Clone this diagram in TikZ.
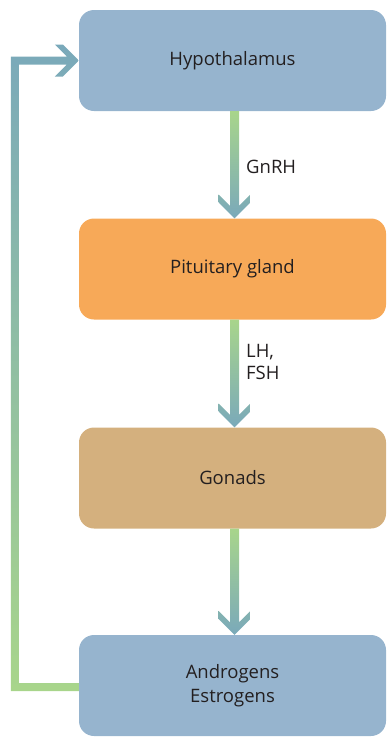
\documentclass[tikz,border=0pt]{standalone}
\usepackage{fontspec}
\setmainfont{Open Sans}
\usetikzlibrary{calc}

\definecolor{boxblue}{RGB}{150,180,206}
\definecolor{boxorange}{RGB}{247,169,88}
\definecolor{boxtan}{RGB}{212,176,126}
\definecolor{flowgreen}{RGB}{168,213,139}
\definecolor{flowteal}{RGB}{122,169,186}
\definecolor{ink}{RGB}{35,31,32}

% Down arrow between two stacked boxes: thick stem and a chevron head,
% shaded from green (top) to teal (tip).
\newcommand\flowdown[2]{%
  \shade[top color=flowgreen, bottom color=flowteal]
    ($(#1.south)+(-2.5,0)$) --
    ($(#2.north)+(-2.5,-12.5)$) --
    ($(#2.north)+(-14,-24)$) --
    ($(#2.north)+(-14,-16)$) --
    ($(#2.north)+(2,0)$) --
    ($(#2.north)+(18,-16)$) --
    ($(#2.north)+(18,-24)$) --
    ($(#2.north)+(6.5,-12.5)$) --
    ($(#1.south)+(6.5,0)$) -- cycle;}

\begin{document}
\begin{tikzpicture}[x=1pt, y=-1pt,
  box/.style={rectangle, rounded corners=15pt, minimum width=307pt,
    minimum height=101pt, inner sep=0pt, text=ink, align=center,
    font=\fontsize{18.5}{24}\selectfont},
  flowlabel/.style={inner sep=0pt, text=ink, align=left,
    font=\fontsize{18.5}{22}\selectfont}]
\useasboundingbox (0,0) rectangle (387,737);

\node[box, fill=boxblue]   (hyp) at (232.5,60.5)  {Hypothalamus};
\node[box, fill=boxorange] (pit) at (232.5,269)   {Pituitary gland};
\node[box, fill=boxtan]    (gon) at (232.5,478)   {Gonads};
\node[box, fill=boxblue]   (sex) at (232.5,685.5) {Androgens\\Estrogens};

\flowdown{hyp}{pit}
\flowdown{pit}{gon}
\flowdown{gon}{sex}

\node[flowlabel, anchor=base west] (gnrh) at (246,173) {GnRH};
\node[flowlabel, anchor=west] (lhfsh) at (246,362) {LH,\\FSH};

% Feedback loop from the hormones back to the hypothalamus
\shade[top color=flowteal, bottom color=flowgreen]
  (hyp.west) --
  ($(hyp.west)+(-16,-16)$) --
  ($(hyp.west)+(-24,-16)$) --
  ($(hyp.west)+(-12,-4)$) --
  ($(hyp.west)+(-68,-4)$) --
  ($(sex.west)+(-68,5.5)$) --
  ($(sex.west)+(0,5.5)$) --
  ($(sex.west)+(0,-2.5)$) --
  ($(sex.west)+(-60,-2.5)$) --
  ($(hyp.west)+(-60,4)$) --
  ($(hyp.west)+(-12,4)$) --
  ($(hyp.west)+(-24,16)$) --
  ($(hyp.west)+(-16,16)$) -- cycle;
\end{tikzpicture}
\end{document}
